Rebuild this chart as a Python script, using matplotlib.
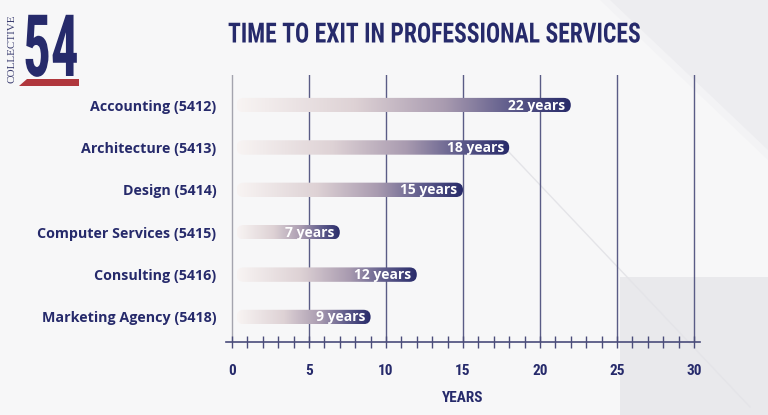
import matplotlib
matplotlib.use("Agg")
import matplotlib.pyplot as plt
import numpy as np
from matplotlib.colors import LinearSegmentedColormap
from matplotlib.patches import FancyBboxPatch, Polygon
from matplotlib.patheffects import AbstractPathEffect
from matplotlib.transforms import Affine2D
from matplotlib import font_manager

categories = ["Accounting (5412)", "Architecture (5413)", "Design (5414)",
              "Computer Services (5415)", "Consulting (5416)", "Marketing Agency (5418)"]
years = [22, 18, 15, 7, 12, 9]
bar_labels = ["22 years", "18 years", "15 years", "7 years", "12 years", "9 years"]
xticks = [0, 5, 10, 15, 20, 25, 30]
title = "TIME TO EXIT IN PROFESSIONAL SERVICES"
xlabel = "YEARS"

avail = {f.name for f in font_manager.fontManager.ttflist}
def pick(names):
    for n in names:
        if n in avail:
            return n
    return "DejaVu Sans"

NARROW = pick(["Liberation Sans Narrow", "DejaVu Sans Condensed", "Roboto Condensed", "DejaVu Sans"])
SANS = pick(["Open Sans", "Lato", "Noto Sans", "DejaVu Sans"])
SERIF = pick(["Liberation Serif", "DejaVu Serif"])


class HScale(AbstractPathEffect):
    """Horizontally condense a left-anchored text."""
    def __init__(self, sx):
        super().__init__()
        self.sx = sx

    def draw_path(self, renderer, gc, tpath, affine, rgbFace=None):
        renderer.draw_path(gc, tpath, Affine2D().scale(self.sx, 1) + affine, rgbFace)


NAVY = "#262a6b"
W, H = 768, 415
fig = plt.figure(figsize=(W / 100, H / 100), dpi=100)
fig.patch.set_facecolor("#f3f3f5")

def fx(x): return x / W
def fy(y): return 1 - y / H

# subtle background geometry
bgshapes = [
    ([(0, 0), (600, 0), (768, 160), (768, 277), (620, 277), (620, 415), (0, 415)], "#f7f7f8"),
    ([(610, 0), (768, 0), (768, 150)], "#ededf0"),
    ([(620, 277), (768, 277), (768, 415), (620, 415)], "#e9e9ec"),
]
for pts, c in bgshapes:
    fig.patches.append(Polygon([(fx(a), fy(b)) for a, b in pts], closed=True,
                               transform=fig.transFigure, facecolor=c, edgecolor="none", zorder=-10))
fig.add_artist(plt.Line2D([fx(507), fx(750)], [fy(150), fy(407)], transform=fig.transFigure,
                          color="#e4e4e8", lw=1, zorder=-9))

# axes
x_left, x_right, y_top, y_bot = 226, 700, 75, 342
ax = fig.add_axes([fx(x_left), fy(y_bot), (x_right - x_left) / W, (y_bot - y_top) / H])
ax.set_facecolor("none")
xmin, xmax = -0.39, 30.39
ymin, ymax = 5.59, -0.71

cmap = LinearSegmentedColormap.from_list(
    "bar", [(0, "#f8f4f3"), (0.35, "#ded2d5"), (0.62, "#a99bb0"), (0.82, "#5e5b8b"), (1, "#272a69")])
grad = np.linspace(0, 1, 256).reshape(1, -1)
bh = 0.34
x0 = 0.3
px_x = (x_right - x_left) / (xmax - xmin)
px_y = (y_bot - y_top) / (ymin - ymax)
for i, (v, lab) in enumerate(zip(years, bar_labels)):
    im = ax.imshow(grad, cmap=cmap, aspect="auto", extent=[x0, v, i + bh / 2, i - bh / 2],
                   interpolation="bicubic", zorder=3)
    patch = FancyBboxPatch((x0, i - bh / 2), v - x0, bh,
                           boxstyle="round,pad=0,rounding_size=%f" % (bh / 2 * px_y / px_x),
                           mutation_aspect=px_x / px_y, facecolor="none", edgecolor="none",
                           transform=ax.transData)
    ax.add_patch(patch)
    im.set_clip_path(patch)
    ax.text(v - 0.35, i + 0.01, lab, ha="right", va="center", color="white",
            fontsize=10, fontweight="bold", family=SANS, zorder=4)

for t in xticks:
    ax.axvline(t, color="#a4a4ae" if t == 0 else "#5a5c86", lw=1, zorder=1)

ax.set_xlim(xmin, xmax)
ax.set_ylim(ymin, ymax)
for s in ["top", "right", "left"]:
    ax.spines[s].set_visible(False)
ax.spines["bottom"].set_color("#4a4c7a")
ax.spines["bottom"].set_linewidth(1.2)
ax.set_xticks(xticks)
ax.set_xticks(np.arange(0, 31, 1), minor=True)
ax.tick_params(axis="x", which="both", direction="inout", colors="#4a4c7a", length=8, width=1)
ax.tick_params(axis="x", which="major", pad=12, labelcolor=NAVY, labelsize=11)
for lbl in ax.get_xticklabels():
    lbl.set_fontfamily(NARROW)
    lbl.set_fontweight("bold")
ax.set_yticks(range(len(categories)))
ax.set_yticklabels(categories, fontsize=10.3, fontweight="bold", family=SANS, color=NAVY)
ax.tick_params(axis="y", length=0, pad=7)

fig.text(fx(463), fy(398), xlabel, ha="center", va="center", fontsize=11, fontweight="bold",
         family=NARROW, color=NAVY)
fig.text(fx(228), fy(35), title, ha="left", va="center", fontsize=20, fontweight="bold",
         family=NARROW, color=NAVY, path_effects=[HScale(0.85)])

# logo
fig.text(fx(23), fy(76), "54", ha="left", va="baseline", fontsize=62, fontweight="bold",
         family=NARROW, color=NAVY, path_effects=[HScale(0.64)])
fig.text(fx(12), fy(49), "COLLECTIVE", ha="center", va="center", rotation=90, fontsize=8,
         family=SERIF, color="#3a3d70")
fig.patches.append(Polygon([(fx(19), fy(86)), (fx(27), fy(79)), (fx(79), fy(79)), (fx(79), fy(86))],
                           closed=True, transform=fig.transFigure, facecolor="#b0373d", edgecolor="none"))

fig.savefig("out.png", dpi=100, facecolor=fig.get_facecolor())
